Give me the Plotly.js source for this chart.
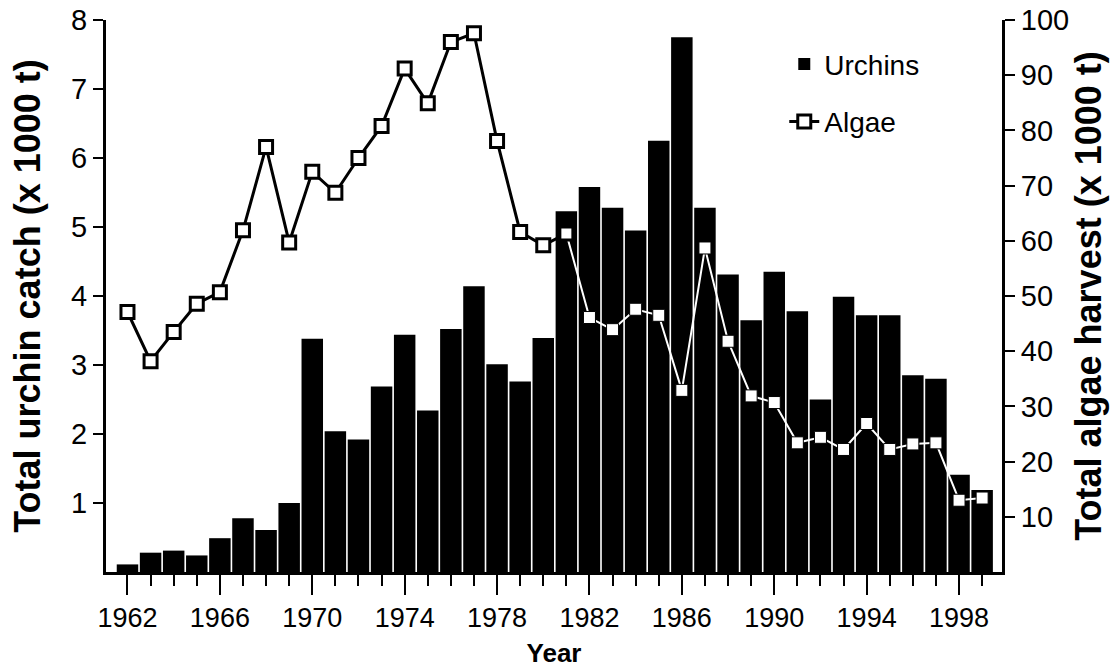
<!DOCTYPE html>
<html>
<head>
<meta charset="utf-8">
<script src="https://cdn.plot.ly/plotly-3.0.1.min.js"></script>
<style>html,body{margin:0;padding:0;background:#fff}#chart{width:1120px;height:672px}</style>
</head>
<body>
<div id="chart"></div>
<script>
const years = [1962,1963,1964,1965,1966,1967,1968,1969,1970,1971,1972,1973,1974,1975,1976,1977,1978,1979,1980,
               1981,1982,1983,1984,1985,1986,1987,1988,1989,1990,1991,1992,1993,1994,1995,1996,1997,1998,1999];
const urchins = [0.11,0.28,0.31,0.24,0.49,0.78,0.61,1.0,3.38,2.04,1.92,2.69,3.44,2.34,3.52,4.14,3.01,2.76,3.39,
                 5.23,5.58,5.28,4.95,6.25,7.75,5.28,4.31,3.65,4.35,3.78,2.50,3.99,3.72,3.72,2.85,2.80,1.41,1.19];
const algae = [47.1,38.2,43.5,48.6,50.7,61.9,77.0,59.7,72.5,68.7,75.0,80.8,91.2,84.9,96.0,97.6,78.1,61.6,59.2,
               61.3,46.1,43.9,47.6,46.5,32.9,58.7,41.8,31.9,30.7,23.4,24.4,22.2,26.9,22.2,23.2,23.4,13.0,13.4];
const xTicks = [1962,1966,1970,1974,1978,1982,1986,1990,1994,1998];
const leftTicks = [1,2,3,4,5,6,7,8];
const rightTicks = [10,20,30,40,50,60,70,80,90,100];
const splitYear = 1981;

const k = years.indexOf(splitYear);
const FONT = 'Liberation Sans, Arial, Helvetica, sans-serif';

const traces = [
  {type:'bar', x: years, y: urchins, name:'Urchins', marker:{color:'#000'}, legendgroup:'u', hoverinfo:'x+y'},
  {type:'scatter', mode:'lines+markers', x: years.slice(k), y: algae.slice(k), yaxis:'y2', showlegend:false,
   legendgroup:'a', line:{color:'#fff', width:2}, marker:{symbol:'square', size:12, color:'#fff', line:{color:'#000', width:1}}},
  {type:'scatter', mode:'lines+markers', x: years.slice(0, k+1), y: algae.slice(0, k+1), yaxis:'y2', name:'Algae',
   legendgroup:'a', line:{color:'#000', width:3}, marker:{symbol:'square', size:13, color:'#fff', line:{color:'#000', width:3}}}
];

const layout = {
  width:1120, height:672,
  margin:{l:106, r:118, t:20, b:100, pad:0},
  paper_bgcolor:'#fff', plot_bgcolor:'#fff',
  font:{family:FONT, size:27, color:'#000'},
  bargap:0.07,
  showlegend:true,
  legend:{x:0.757, y:0.965, xanchor:'left', yanchor:'top', bgcolor:'rgba(0,0,0,0)',
          font:{family:FONT, size:28, color:'#000'}, tracegroupgap:18, traceorder:'grouped'},
  xaxis:{range:[1961.07, 1999.86], tickvals:xTicks, ticktext:xTicks.map(String), ticks:'outside', ticklen:20, tickwidth:2,
         tickcolor:'#000', showline:true, linewidth:3, linecolor:'#000', showgrid:false, zeroline:false,
         minor:{dtick:1, tick0:1962, ticks:'outside', ticklen:11, tickwidth:2, tickcolor:'#000', showgrid:false},
         tickfont:{family:FONT, size:27, color:'#000'},
         title:{text:'<b>Year</b>', font:{family:FONT, size:26, color:'#000'}, standoff:12}},
  yaxis:{range:[0,8], tickvals:leftTicks, ticks:'outside', ticklen:10, tickwidth:2, tickcolor:'#000',
         showline:true, linewidth:3, linecolor:'#000', showgrid:false, zeroline:false,
         tickfont:{family:FONT, size:29, color:'#000'},
         title:{text:'<b>Total urchin catch (x 1000 t)</b>', font:{family:FONT, size:36, color:'#000'}, standoff:20}},
  yaxis2:{range:[0,100], overlaying:'y', side:'right', tickvals:rightTicks, ticks:'outside', ticklen:10, tickwidth:2,
          tickcolor:'#000', showline:true, linewidth:3, linecolor:'#000', showgrid:false, zeroline:false,
          tickfont:{family:FONT, size:29, color:'#000'},
          title:{text:'<b>Total algae harvest (x 1000 t)</b>', font:{family:FONT, size:36, color:'#000'}, standoff:8}}
};

Plotly.newPlot('chart', traces, layout, {displayModeBar:false, staticPlot:true});
</script>
</body>
</html>
